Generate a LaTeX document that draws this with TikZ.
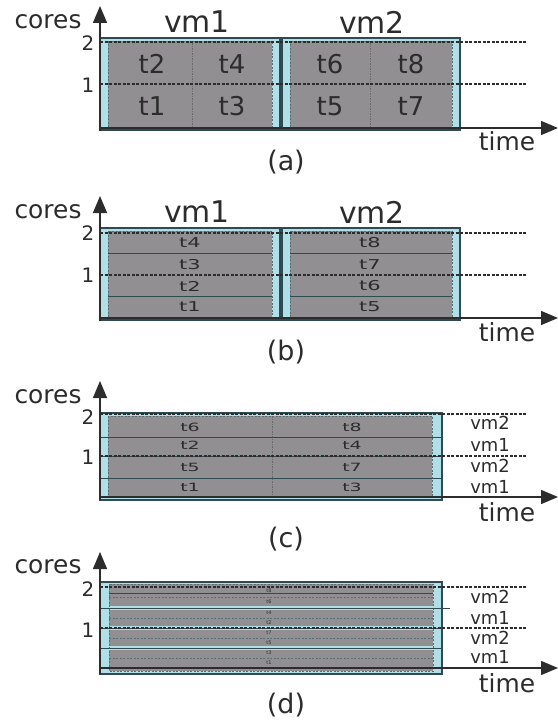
\documentclass[tikz,border=0pt]{standalone}
\usepackage{fontspec}
\usepackage{graphicx}
\setmainfont{DejaVu Sans}
\usetikzlibrary{arrows.meta}
\definecolor{vmblue}{HTML}{B0DFE7}
\definecolor{taskgray}{HTML}{918F91}
\definecolor{edgec}{HTML}{2F4A50}
\definecolor{ink}{HTML}{2C2C2C}
\tikzset{
  vmbox/.style={fill=vmblue, draw=edgec, line width=1.6bp},
  graybox/.style={fill=taskgray, draw=edgec!80, line width=0.6bp, dash pattern=on 2bp off 1.5bp},
  grayband/.style={fill=taskgray, draw=none},
  levelline/.style={draw=ink, line width=1.3bp, dash pattern=on 3bp off 1.5bp},
  rowsep/.style={draw=edgec, line width=1bp},
  subsep/.style={draw=edgec!80, line width=0.6bp, dash pattern=on 2bp off 1.5bp},
  coldiv/.style={draw=ink!70, line width=0.6bp, dash pattern=on 1.5bp off 1bp},
  axisarrow/.style={draw=ink, line width=1.4bp, -{Triangle[length=17bp,width=14bp]}},
  lbl/.style={inner sep=0pt, text=ink},
  corelbl/.style={lbl, font=\fontsize{25}{25}\selectfont},
  vmtop/.style={lbl, font=\fontsize{30}{30}\selectfont},
  ticklbl/.style={lbl, font=\fontsize{20}{20}\selectfont},
  taskA/.style={lbl, font=\fontsize{26}{26}\selectfont},
  taskB/.style={lbl, font=\fontsize{21}{21}\selectfont},
  taskC/.style={lbl, font=\fontsize{19}{19}\selectfont},
  taskD/.style={lbl, font=\fontsize{5}{5}\selectfont},
  vmside/.style={lbl, font=\fontsize{18}{18}\selectfont},
  timelbl/.style={lbl, font=\fontsize{25}{25}\selectfont},
  caplbl/.style={lbl, font=\fontsize{27}{27}\selectfont},
}
\begin{document}
\begin{tikzpicture}[x=1bp, y=-1bp]
\useasboundingbox[fill=white] (0,0) rectangle (558,721);

% ---------------- (a) ----------------
\draw[vmbox] (100,38) rectangle (280,130);
\draw[vmbox] (282,38) rectangle (460,130);
\draw[graybox] (108,41) rectangle (272,127);
\draw[graybox] (290,41) rectangle (452,127);
\draw[coldiv] (192,41) -- (192,127);
\draw[coldiv] (370,41) -- (370,127);
\draw[levelline] (100,42) -- (527,42);
\draw[levelline] (100,84) -- (527,84);
\coordinate (oa) at (100,128);
\coordinate (ya) at (100,6);
\coordinate (xa) at (558,128);
\coordinate (oab) at (100,131);
\draw[axisarrow] (oab) -- (ya);
\draw[axisarrow] (oa) -- (xa);
\node[corelbl] (coresa) at (48,22) {cores};
\node[vmtop] (vm1a) at (197,22) {vm1};
\node[vmtop] (vm2a) at (372,22) {vm2};
\node[ticklbl] (twoa) at (88,43) {2};
\node[ticklbl] (onea) at (88,85) {1};
\node[taskA] (t2a) at (152,64) {t2};
\node[taskA] (t4a) at (232,64) {t4};
\node[taskA] (t6a) at (330,64) {t6};
\node[taskA] (t8a) at (411,64) {t8};
\node[taskA] (t1a) at (152,106) {t1};
\node[taskA] (t3a) at (232,106) {t3};
\node[taskA] (t5a) at (330,106) {t5};
\node[taskA] (t7a) at (411,106) {t7};
\node[timelbl] (timea) at (507,141) {time};
\node[caplbl] (capa) at (286,162) {(a)};

% ---------------- (b) ----------------
\draw[vmbox] (100,228) rectangle (280,320);
\draw[vmbox] (282,228) rectangle (460,320);
\draw[graybox] (108,231) rectangle (272,317);
\draw[graybox] (290,231) rectangle (452,317);
\draw[rowsep] (108,253) -- (272,253);
\draw[rowsep] (108,296) -- (272,296);
\draw[rowsep] (290,253) -- (452,253);
\draw[rowsep] (290,296) -- (452,296);
\draw[levelline] (100,233) -- (527,233);
\draw[levelline] (100,275) -- (527,275);
\coordinate (ob) at (100,318);
\coordinate (obb) at (100,321);
\coordinate (yb) at (100,196);
\coordinate (xb) at (558,318);
\draw[axisarrow] (obb) -- (yb);
\draw[axisarrow] (ob) -- (xb);
\node[corelbl] (coresb) at (48,212) {cores};
\node[vmtop] (vm1b) at (197,212) {vm1};
\node[vmtop] (vm2b) at (372,212) {vm2};
\node[ticklbl] (twob) at (88,233) {2};
\node[ticklbl] (oneb) at (88,275) {1};
\node[taskB] (t4b) at (190,243) {\scalebox{1}[0.65]{t4}};
\node[taskB] (t3b) at (190,265) {\scalebox{1}[0.65]{t3}};
\node[taskB] (t2b) at (190,286) {\scalebox{1}[0.65]{t2}};
\node[taskB] (t1b) at (190,307) {\scalebox{1}[0.65]{t1}};
\node[taskB] (t8b) at (370,243) {\scalebox{1}[0.65]{t8}};
\node[taskB] (t7b) at (370,265) {\scalebox{1}[0.65]{t7}};
\node[taskB] (t6b) at (370,286) {\scalebox{1}[0.65]{t6}};
\node[taskB] (t5b) at (370,307) {\scalebox{1}[0.65]{t5}};
\node[timelbl] (timeb) at (507,332) {time};
\node[caplbl] (capb) at (286,352) {(b)};

% ---------------- (c) ----------------
\draw[vmbox] (100,413) rectangle (442,500);
\draw[graybox] (108,416) rectangle (432,497);
\draw[coldiv] (272,416) -- (272,497);
\draw[rowsep] (100,437) -- (442,437);
\draw[rowsep] (100,478) -- (442,478);
\draw[rowsep] (100,456) -- (442,456);
\draw[levelline] (100,414) -- (527,414);
\draw[levelline] (100,456) -- (527,456);
\coordinate (oc) at (100,497);
\coordinate (occ) at (100,500);
\coordinate (yc) at (100,381);
\coordinate (xc) at (558,497);
\draw[axisarrow] (occ) -- (yc);
\draw[axisarrow] (oc) -- (xc);
\node[corelbl] (coresc) at (48,397) {cores};
\node[ticklbl] (twoc) at (88,417) {2};
\node[ticklbl] (onec) at (88,457) {1};
\node[taskC] (t6c) at (190,427) {\scalebox{1}[0.6]{t6}};
\node[taskC] (t8c) at (352,427) {\scalebox{1}[0.6]{t8}};
\node[taskC] (t2c) at (190,445) {\scalebox{1}[0.6]{t2}};
\node[taskC] (t4c) at (352,445) {\scalebox{1}[0.6]{t4}};
\node[taskC] (t5c) at (190,467) {\scalebox{1}[0.6]{t5}};
\node[taskC] (t7c) at (352,467) {\scalebox{1}[0.6]{t7}};
\node[taskC] (t1c) at (190,487) {\scalebox{1}[0.6]{t1}};
\node[taskC] (t3c) at (352,487) {\scalebox{1}[0.6]{t3}};
\node[vmside] (vmc4) at (490,423) {vm2};
\node[vmside] (vmc3) at (490,445) {vm1};
\node[vmside] (vmc2) at (490,466) {vm2};
\node[vmside] (vmc1) at (490,487) {vm1};
\node[timelbl] (timec) at (507,512) {time};
\node[caplbl] (capc) at (286,539) {(c)};

% ---------------- (d) ----------------
\draw[vmbox] (100,582) rectangle (442,674);
\fill[grayband] (109,584) rectangle (433,606);
\fill[grayband] (109,610) rectangle (433,626);
\fill[grayband] (109,630) rectangle (433,646);
\fill[grayband] (109,650) rectangle (433,671);
\draw[graybox, fill=none] (109,584) rectangle (433,671);
\draw[subsep] (109,597) -- (433,597);
\draw[subsep] (109,618) -- (433,618);
\draw[subsep] (109,638) -- (433,638);
\draw[subsep] (109,658) -- (433,658);
\draw[rowsep] (109,593) -- (433,593);
\draw[rowsep] (100,608) -- (450,608);
\draw[rowsep] (100,648) -- (442,648);
\draw[rowsep] (100,628) -- (442,628);
\draw[levelline] (100,587) -- (527,587);
\draw[levelline] (100,628) -- (527,628);
\coordinate (od) at (100,668);
\coordinate (odd) at (100,674);
\coordinate (yd) at (100,552);
\coordinate (xd) at (558,668);
\draw[axisarrow] (odd) -- (yd);
\draw[axisarrow] (od) -- (xd);
\node[corelbl] (coresd) at (48,567) {cores};
\node[ticklbl] (twod) at (88,589) {2};
\node[ticklbl] (oned) at (88,630) {1};
\node[taskD] (t8d) at (269,591) {t8};
\node[taskD] (t6d) at (269,602) {t6};
\node[taskD] (t4d) at (269,613) {t4};
\node[taskD] (t2d) at (269,623) {t2};
\node[taskD] (t7d) at (269,633) {t7};
\node[taskD] (t5d) at (269,643) {t5};
\node[taskD] (t3d) at (269,653) {t3};
\node[taskD] (t1d) at (269,663) {t1};
\node[vmside] (vmd4) at (490,597) {vm2};
\node[vmside] (vmd3) at (490,618) {vm1};
\node[vmside] (vmd2) at (490,638) {vm2};
\node[vmside] (vmd1) at (490,657) {vm1};
\node[timelbl] (timed) at (507,683) {time};
\node[caplbl] (capd) at (286,705) {(d)};
\end{tikzpicture}
\end{document}
